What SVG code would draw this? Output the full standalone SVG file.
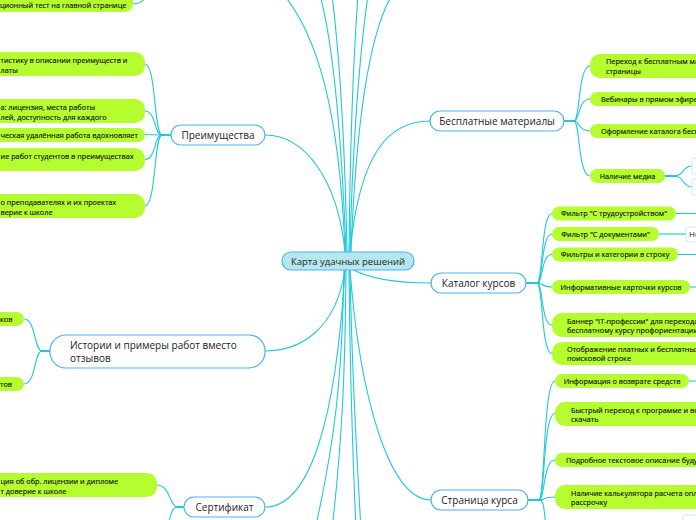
<svg xmlns="http://www.w3.org/2000/svg" width="696" height="520" viewBox="0 0 696 520">
<style>
.c{fill:none;stroke:#22c8d8;stroke-width:1.1}
.ct{fill:none;stroke:#22c8d8;stroke-width:2}
.g{fill:#b5fd2e}
.m{fill:#fff;stroke:#4eb2ef;stroke-width:1.2}
.f{fill:#fff;stroke:#cfe9f5;stroke-width:1}
.t{font-family:"Open Sans","Noto Sans",sans-serif;font-size:7.3px;fill:#111;stroke:#111;stroke-width:0.15}
.tm{font-family:"Open Sans","Noto Sans",sans-serif;font-size:10px;fill:#222}
</style>
<rect width="696" height="520" fill="#fff"/>
<g id="connectors">
<path class="c" d="M345,252 C338,180 305,135 265,135"/>
<path class="c" d="M350,252 C360,150 390,121 430,121"/>
<path class="c" d="M350,268 C370,280 400,283 431,283"/>
<path class="c" d="M345,270 C336,330 300,351 265,351"/>
<path class="c" d="M345,270 C336,420 310,507 265,507"/>
<path class="c" d="M350,270 C360,400 390,500 431,500"/>
<path class="c" d="M345,252 C340,120 320,30 275,-15"/>
<path class="c" d="M346,252 C342,150 335,50 320,-5"/>
<path class="c" d="M347,252 C345,150 340,60 332,-5"/>
<path class="c" d="M349,252 C350,150 354,50 358,-5"/>
<path class="c" d="M350,252 C352,150 360,50 368,-5"/>
<path class="c" d="M351,252 C355,150 365,40 392,-5"/>
<path class="c" d="M344,270 C342,380 335,440 315,530"/>
<path class="c" d="M346,270 C345,380 342,440 332,530"/>
<path class="c" d="M349,270 C350,380 352,440 356,530"/>
<path class="c" d="M350,270 C352,380 356,440 361,530"/>
<path class="c" d="M133,4 C140,4 143,1 146,-3"/>
<path class="ct" d="M171,135 L160,135"/>
<path class="c" d="M145,64 C156,64 154,135 162,135"/>
<path class="c" d="M145,111 C156,111 154,135 162,135"/>
<path class="c" d="M145,134.5 L162,135"/>
<path class="c" d="M145,159.5 C156,159.5 154,135 162,135"/>
<path class="c" d="M145,206 C156,206 154,135 162,135"/>
<path class="ct" d="M50,351 L40,351"/>
<path class="c" d="M24,319 C36,319 34,351 42,351"/>
<path class="c" d="M24,384 C36,384 34,351 42,351"/>
<path class="ct" d="M184,507 L175,507"/>
<path class="c" d="M157,485 C170,485 170,507 177,507"/>
<path class="c" d="M177,507 C172,507 171,515 168,525"/>
<path class="ct" d="M564,121 L576,121"/>
<path class="c" d="M590,66 C578,66 580,121 574,121"/>
<path class="c" d="M590,99 C578,99 580,121 574,121"/>
<path class="c" d="M590,131 C578,131 580,121 574,121"/>
<path class="c" d="M590,176 C578,176 580,121 574,121"/>
<path class="ct" d="M665,176 L677,176"/>
<path class="c" d="M692,166 C682,166 684,176 675,176"/>
<path class="c" d="M692,187 C682,187 684,176 675,176"/>
<path class="ct" d="M526,283 L540,283"/>
<path class="c" d="M552,213.5 C541,213.5 543,283 537,283"/>
<path class="c" d="M552,234 C541,234 543,283 537,283"/>
<path class="c" d="M552,254.5 C541,254.5 543,283 537,283"/>
<path class="c" d="M552,287 C541,287 543,283 537,283"/>
<path class="c" d="M552,325 C541,325 543,283 537,283"/>
<path class="c" d="M552,353.5 C541,353.5 543,283 537,283"/>
<path class="c" d="M676,213.5 L700,213.5"/>
<path d="M659,234 L686,234" fill="none" stroke="#7fe3ea" stroke-width="2"/>
<path class="c" d="M678,254.5 L700,254.5"/>
<path class="c" d="M690,287 L700,287"/>
<path class="ct" d="M528,500 L542,500"/>
<path class="c" d="M555,381 C543,381 545,500 539,500"/>
<path class="c" d="M555,413.5 C543,413.5 545,500 539,500"/>
<path class="c" d="M555,460 C543,460 545,500 539,500"/>
<path class="c" d="M555,497 C543,497 545,500 539,500"/>
<path class="c" d="M539,500 C545,500 544,515 546,525"/>
<path class="c" d="M689,381 L700,381"/>
</g>
<g id="n-central">
<rect x="282" y="252" width="132" height="18" rx="9" fill="#b6e7ef" stroke="#4eb2ef" stroke-width="1.2"/>
<text class="tm" x="348" y="264.5" text-anchor="middle" style="font-size:9.5px">Карта удачных решений</text>
</g>
<g id="n-test">
<rect class="g" x="-20" y="-12" width="153" height="24" rx="8"/>
<text class="t" x="0" y="7.5">ционный тест на главной странице</text>
</g>
<g id="n-preim">
<rect class="m" x="171" y="125" width="94" height="20" rx="10"/>
<text class="tm" x="218" y="138.5" text-anchor="middle">Преимущества</text>
</g>
<g id="n-p1">
<rect class="g" x="-20" y="52" width="165" height="24" rx="10"/>
<text class="t" x="0.5" y="62.5">тистику в описании преимуществ и</text>
<text class="t" x="0.5" y="72.5">латы</text>
</g>
<g id="n-p2">
<rect class="g" x="-20" y="99" width="165" height="24" rx="10"/>
<text class="t" x="0.5" y="109.5">а: лицензия, места работы</text>
<text class="t" x="0.5" y="119.5">лей, доступность для каждого</text>
</g>
<g id="n-p3">
<rect class="g" x="-20" y="128" width="165" height="14" rx="7"/>
<text class="t" x="0.5" y="137.5">ческая удалённая работа вдохновляет</text>
</g>
<g id="n-p4">
<rect class="g" x="-20" y="148" width="165" height="23" rx="10"/>
<text class="t" x="0.5" y="158.5">ие работ студентов в преимуществах</text>
</g>
<g id="n-p5">
<rect class="g" x="-20" y="194" width="165" height="24" rx="10"/>
<text class="t" x="0.5" y="204.5">о преподавателях и их проектах</text>
<text class="t" x="0.5" y="214.5">верие к школе</text>
</g>
<g id="n-ist">
<rect class="m" x="50" y="335" width="215" height="33" rx="16"/>
<text class="tm" x="70" y="349">Истории и примеры работ вместо</text>
<text class="tm" x="70" y="361.5">отзывов</text>
</g>
<g id="n-i1">
<rect class="g" x="-20" y="312" width="44" height="14" rx="7"/>
<text class="t" x="0" y="321.5">ков</text>
</g>
<g id="n-i2">
<rect class="g" x="-20" y="377" width="44" height="14" rx="7"/>
<text class="t" x="0" y="386.5">тов</text>
</g>
<g id="n-sert">
<rect class="m" x="184" y="497" width="81" height="20" rx="10"/>
<text class="tm" x="224.5" y="510.5" text-anchor="middle">Сертификат</text>
</g>
<g id="n-s1">
<rect class="g" x="-20" y="473" width="177" height="24" rx="10"/>
<text class="t" x="0.5" y="483.5">ция об обр. лицензии и дипломе</text>
<text class="t" x="0.5" y="493.5">т доверие к школе</text>
</g>
<g id="n-besp">
<rect class="m" x="430" y="111" width="134" height="20" rx="10"/>
<text class="tm" x="497" y="124.5" text-anchor="middle">Бесплатные материалы</text>
</g>
<g id="n-b1">
<rect class="g" x="590" y="54" width="130" height="24" rx="10"/>
<text class="t" x="606" y="63.5">Переход к бесплатным ма</text>
<text class="t" x="606" y="73.5">страницы</text>
</g>
<g id="n-b2">
<rect class="g" x="590" y="92" width="130" height="14" rx="7"/>
<text class="t" x="601" y="101.5">Вебинары в прямом эфире</text>
</g>
<g id="n-b3">
<rect class="g" x="590" y="124" width="130" height="14" rx="7"/>
<text class="t" x="601" y="133.5">Оформление каталога бесп</text>
</g>
<g id="n-b4">
<rect class="g" x="590" y="169" width="75" height="14" rx="7"/>
<text class="t" x="627.5" y="178.5" text-anchor="middle">Наличие медиа</text>
</g>
<g id="n-b4a"><rect class="f" x="692" y="158" width="20" height="16" rx="2"/></g>
<g id="n-b4b"><rect class="f" x="692" y="179" width="20" height="16" rx="2"/></g>
<g id="n-kat">
<rect class="m" x="431" y="273" width="95" height="20" rx="10"/>
<text class="tm" x="478.5" y="286.5" text-anchor="middle">Каталог курсов</text>
</g>
<g id="n-k1">
<rect class="g" x="552" y="206.5" width="124" height="14" rx="7"/>
<text class="t" x="614" y="216" text-anchor="middle">Фильтр "С трудоустройством"</text>
</g>
<g id="n-k2">
<rect class="g" x="552" y="227" width="107" height="14" rx="7"/>
<text class="t" x="605.5" y="236.5" text-anchor="middle">Фильтр "С документами"</text>
</g>
<g id="n-k2a">
<rect class="f" x="686" y="227" width="30" height="15" rx="2"/>
<text class="tm" x="689" y="237" style="font-size:8px">Не</text>
</g>
<g id="n-k3">
<rect class="g" x="552" y="247.5" width="126" height="14" rx="7"/>
<text class="t" x="615" y="257" text-anchor="middle">Фильтры и категории в строку</text>
</g>
<g id="n-k4">
<rect class="g" x="552" y="280" width="138" height="14" rx="7"/>
<text class="t" x="621" y="289.5" text-anchor="middle">Информативные карточки курсов</text>
</g>
<g id="n-k5">
<rect class="g" x="552" y="313" width="170" height="24" rx="10"/>
<text class="t" x="567" y="323.5">Баннер "IT-профессии" для перехода</text>
<text class="t" x="567" y="333">бесплатному курсу профориентации</text>
</g>
<g id="n-k6">
<rect class="g" x="552" y="342" width="170" height="23" rx="10"/>
<text class="t" x="567" y="352">Отображение платных и бесплатных</text>
<text class="t" x="567" y="361">поисковой строке</text>
</g>
<g id="n-str">
<rect class="m" x="431" y="490" width="97" height="20" rx="10"/>
<text class="tm" x="479.5" y="503.5" text-anchor="middle">Страница курса</text>
</g>
<g id="n-s-1">
<rect class="g" x="555" y="374" width="134" height="14" rx="7"/>
<text class="t" x="622" y="383.5" text-anchor="middle">Информация о возврате средств</text>
</g>
<g id="n-s-2">
<rect class="g" x="555" y="402" width="170" height="24" rx="10"/>
<text class="t" x="571" y="412.5">Быстрый переход к программе и воз</text>
<text class="t" x="571" y="421.5">скачать</text>
</g>
<g id="n-s-3">
<rect class="g" x="555" y="453" width="170" height="14" rx="7"/>
<text class="t" x="566" y="462.5">Подробное текстовое описание будущ</text>
</g>
<g id="n-s-4">
<rect class="g" x="555" y="485" width="170" height="24" rx="10"/>
<text class="t" x="571" y="495.5">Наличие калькулятора расчета опла</text>
<text class="t" x="571" y="505">рассрочку</text>
</g>
<g id="n-s-5"><rect class="f" x="683" y="515" width="30" height="16" rx="2"/></g>
</svg>
